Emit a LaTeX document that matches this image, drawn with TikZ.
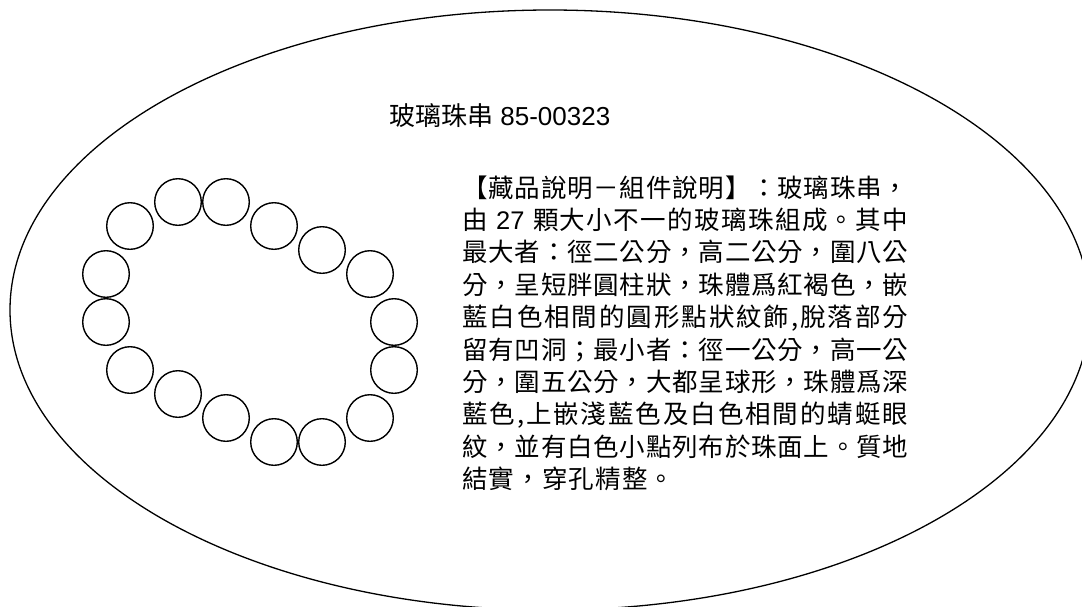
\documentclass[tikz,border=0pt]{standalone}
\usepackage{fontspec}
\setmainfont{Liberation Sans}
\newfontfamily\cjk{Noto Sans CJK TC}
\makeatletter
\newcommand\spreadline[2]{\hbox to #1{\spr@first#2\spr@end}}
\def\spr@end{\spr@end}
\def\spr@first#1{#1\spr@aux}
\def\spr@aux#1{\ifx\spr@end#1\else\hfil#1\expandafter\spr@aux\fi}
\makeatother
\begin{document}
\begin{tikzpicture}[x=1pt,y=-1pt,
  bead/.style={draw, line width=1.4pt, circle, minimum size=46.6pt, inner sep=0pt},
  ring/.style={draw, line width=1.3pt},
  bodytxt/.style={inner sep=0pt, anchor=base west, font={\cjk\fontsize{25.5pt}{30pt}\selectfont}},
  titletxt/.style={inner sep=0pt, anchor=base west, font={\fontsize{26pt}{30pt}\selectfont}}]
\useasboundingbox (0,0) rectangle (1082,606);
\clip (0,0) rectangle (1082,606);
\fill[white] (0,0) rectangle (1082,606);
\draw[ring] (550,310) ellipse [x radius=540, y radius=300];
% beads
\node[bead] (b1) at (178,202) {};
\node[bead] (b2) at (226,202) {};
\node[bead] (b3) at (130,226) {};
\node[bead] (b4) at (274,226) {};
\node[bead] (b5) at (322,250) {};
\node[bead] (b6) at (106,274) {};
\node[bead] (b7) at (370,274) {};
\node[bead] (b8) at (106,322) {};
\node[bead] (b9) at (394,322) {};
\node[bead] (b10) at (394,370) {};
\node[bead] (b11) at (130,370) {};
\node[bead] (b12) at (178,394) {};
\node[bead] (b13) at (226,418) {};
\node[bead] (b14) at (274,442) {};
\node[bead] (b15) at (322,442) {};
\node[bead] (b16) at (370,418) {};
% title
\node[titletxt] (title) at (389,125) {{\cjk 玻璃珠串} 85-00323};
% body
\node[bodytxt] (l1) at (462,197.0) {\spreadline{446pt}{【藏品說明－組件說明】：玻璃珠串，}};
\node[bodytxt] (l2) at (462,229.4) {\spreadline{446pt}{由{\mbox{\normalfont\ 27\ }}顆大小不一的玻璃珠組成。其中}};
\node[bodytxt] (l3) at (462,261.8) {\spreadline{446pt}{最大者：徑二公分，高二公分，圍八公}};
\node[bodytxt] (l4) at (462,294.2) {\spreadline{446pt}{分，呈短胖圓柱狀，珠體爲紅褐色，嵌}};
\node[bodytxt] (l5) at (462,326.6) {\spreadline{446pt}{藍白色相間的圓形點狀紋飾,脫落部分}};
\node[bodytxt] (l6) at (462,359.0) {\spreadline{446pt}{留有凹洞；最小者：徑一公分，高一公}};
\node[bodytxt] (l7) at (462,391.4) {\spreadline{446pt}{分，圍五公分，大都呈球形，珠體爲深}};
\node[bodytxt] (l8) at (462,423.8) {\spreadline{446pt}{藍色,上嵌淺藍色及白色相間的蜻蜓眼}};
\node[bodytxt] (l9) at (462,456.2) {\spreadline{446pt}{紋，並有白色小點列布於珠面上。質地}};
\node[bodytxt] (l10) at (462,488.6) {\spreadline{212pt}{結實，穿孔精整。}};
\end{tikzpicture}
\end{document}
